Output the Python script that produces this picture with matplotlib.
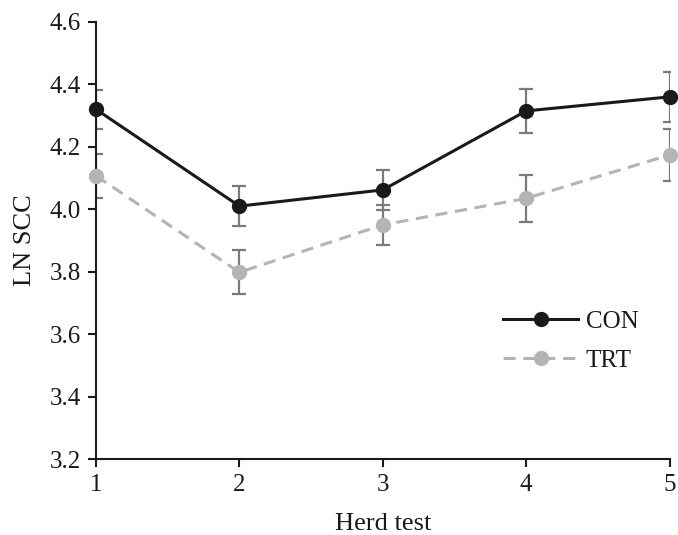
import matplotlib.pyplot as plt

plt.rcParams['font.family'] = ['Liberation Serif', 'DejaVu Serif']

herd_test = [1, 2, 3, 4, 5]
con_mean = [4.32, 4.01, 4.062, 4.315, 4.36]
con_err = [0.063, 0.065, 0.065, 0.07, 0.08]
trt_mean = [4.107, 3.798, 3.95, 4.035, 4.174]
trt_err = [0.07, 0.07, 0.065, 0.075, 0.083]

fig = plt.figure(figsize=(6.78, 5.35), dpi=100)
ax = fig.add_axes([0.1416, 0.142, 0.846, 0.817])

err_color = "#7a7a7a"
ax.errorbar(herd_test, con_mean, yerr=con_err, fmt='none', ecolor=err_color,
            elinewidth=1.6, capsize=5, capthick=1.6, zorder=2)
ax.errorbar(herd_test, trt_mean, yerr=trt_err, fmt='none', ecolor=err_color,
            elinewidth=1.6, capsize=5, capthick=1.6, zorder=2)

ax.plot(herd_test, con_mean, color="#1a1a1a", linewidth=2.2, marker='o',
        markersize=10, label="CON", zorder=4, clip_on=False)
ax.plot(herd_test, trt_mean, color="#b4b4b6", linewidth=2.2, linestyle=(0, (4, 2.5)),
        marker='o', markersize=10, label="TRT", zorder=3, clip_on=False)

ax.set_xlim(1, 5)
ax.set_ylim(3.2, 4.6)
ax.set_xticks(herd_test)
yticks = [3.2, 3.4, 3.6, 3.8, 4.0, 4.2, 4.4, 4.6]
ax.set_yticks(yticks)
ax.set_yticklabels([f"{v:.1f}" for v in yticks])

for side in ['top', 'right']:
    ax.spines[side].set_visible(False)
for side in ['left', 'bottom']:
    ax.spines[side].set_linewidth(1.5)
    ax.spines[side].set_color("#1a1a1a")

ax.tick_params(axis='both', labelsize=18, width=1.5, length=6, color="#1a1a1a",
               labelcolor="#1a1a1a", pad=5)

ax.set_xlabel("Herd test", fontsize=19, color="#1a1a1a", labelpad=12)
ax.set_ylabel("LN SCC", fontsize=19, color="#1a1a1a", labelpad=10)

ax.legend(loc='center right', bbox_to_anchor=(0.985, 0.27), frameon=False, fontsize=18,
          handlelength=3, handletextpad=0.3, labelspacing=0.65, labelcolor="#1a1a1a")

fig.savefig("out.png", dpi=100)
